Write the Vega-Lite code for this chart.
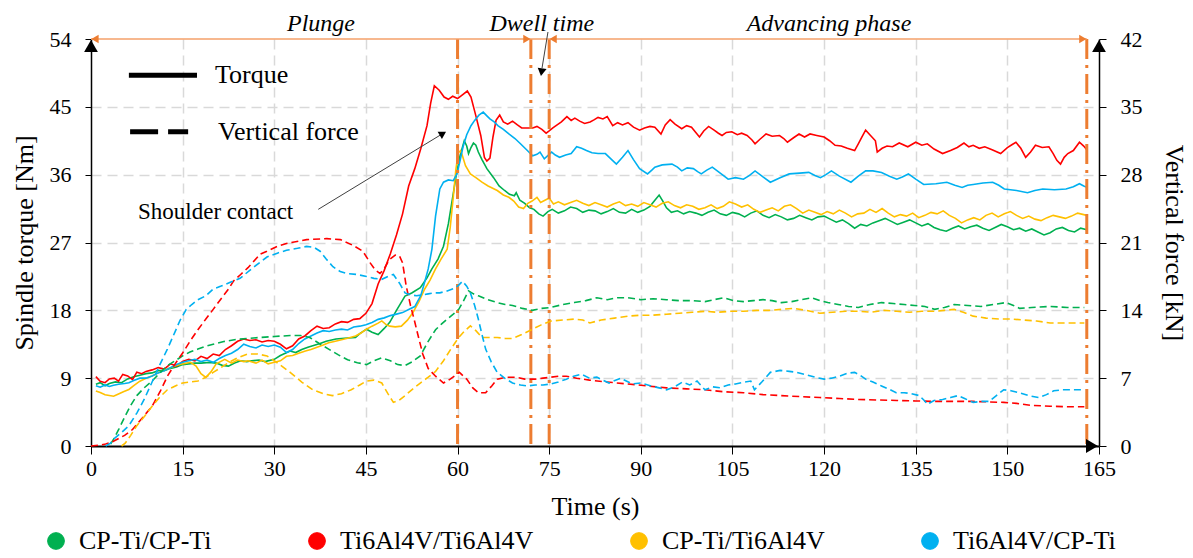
{
"$schema":"https://vega.github.io/schema/vega-lite/v6.json",
"width":1008,"height":407,
"autosize":{"type":"none"},
"padding":{"left":91,"top":39,"right":94,"bottom":112},
"background":"white",
"config":{
 "font":"Liberation Serif, Times New Roman, serif",
 "view":{"stroke":null},
 "text":{"font":"Liberation Serif, Times New Roman, serif"},
 "axis":{"labelFont":"Liberation Serif, Times New Roman, serif","titleFont":"Liberation Serif, Times New Roman, serif","labelFontSize":22,"titleFontSize":26,"titleFontWeight":"normal","labelColor":"#000000","titleColor":"#000000","domainColor":"#000000","tickColor":"#000000","gridColor":"#D9D9D9","gridDash":[10,6],"gridWidth":1.5},
 "legend":{"labelFont":"Liberation Serif, Times New Roman, serif","labelFontSize":26,"labelColor":"#000000","labelLimit":400}
},
"datasets":{
"torque":[
{"s":"CP-Ti/CP-Ti","t":0.8,"v":8.2},{"s":"CP-Ti/CP-Ti","t":1.5,"v":8.4},{"s":"CP-Ti/CP-Ti","t":2.3,"v":8.0},{"s":"CP-Ti/CP-Ti","t":3,"v":8.3},{"s":"CP-Ti/CP-Ti","t":4,"v":8.5},{"s":"CP-Ti/CP-Ti","t":5,"v":8.4},{"s":"CP-Ti/CP-Ti","t":6,"v":8.9},{"s":"CP-Ti/CP-Ti","t":7,"v":9.2},{"s":"CP-Ti/CP-Ti","t":8,"v":9.4},{"s":"CP-Ti/CP-Ti","t":9,"v":9.6},{"s":"CP-Ti/CP-Ti","t":10,"v":9.7},{"s":"CP-Ti/CP-Ti","t":11,"v":10.0},{"s":"CP-Ti/CP-Ti","t":12,"v":10.0},{"s":"CP-Ti/CP-Ti","t":13,"v":10.3},{"s":"CP-Ti/CP-Ti","t":14,"v":10.5},{"s":"CP-Ti/CP-Ti","t":15,"v":10.8},{"s":"CP-Ti/CP-Ti","t":16,"v":10.9},{"s":"CP-Ti/CP-Ti","t":17,"v":11.0},{"s":"CP-Ti/CP-Ti","t":18,"v":11.0},{"s":"CP-Ti/CP-Ti","t":19.4,"v":11.1},{"s":"CP-Ti/CP-Ti","t":20.5,"v":11.0},{"s":"CP-Ti/CP-Ti","t":21.5,"v":10.7},{"s":"CP-Ti/CP-Ti","t":22.5,"v":10.6},{"s":"CP-Ti/CP-Ti","t":23.5,"v":11.0},{"s":"CP-Ti/CP-Ti","t":24.5,"v":11.3},{"s":"CP-Ti/CP-Ti","t":25.5,"v":11.2},{"s":"CP-Ti/CP-Ti","t":26.3,"v":11.3},{"s":"CP-Ti/CP-Ti","t":27.5,"v":11.4},{"s":"CP-Ti/CP-Ti","t":28.5,"v":11.2},{"s":"CP-Ti/CP-Ti","t":30,"v":11.5},{"s":"CP-Ti/CP-Ti","t":31,"v":12.0},{"s":"CP-Ti/CP-Ti","t":32.6,"v":12.6},{"s":"CP-Ti/CP-Ti","t":33.5,"v":12.4},{"s":"CP-Ti/CP-Ti","t":34.5,"v":12.8},{"s":"CP-Ti/CP-Ti","t":35.5,"v":13.1},{"s":"CP-Ti/CP-Ti","t":36.3,"v":13.3},{"s":"CP-Ti/CP-Ti","t":37.5,"v":13.6},{"s":"CP-Ti/CP-Ti","t":38.5,"v":13.9},{"s":"CP-Ti/CP-Ti","t":40.1,"v":14.2},{"s":"CP-Ti/CP-Ti","t":41.5,"v":14.3},{"s":"CP-Ti/CP-Ti","t":43.3,"v":14.4},{"s":"CP-Ti/CP-Ti","t":44,"v":14.9},{"s":"CP-Ti/CP-Ti","t":45.1,"v":15.5},{"s":"CP-Ti/CP-Ti","t":46,"v":15.1},{"s":"CP-Ti/CP-Ti","t":47,"v":14.8},{"s":"CP-Ti/CP-Ti","t":48,"v":15.6},{"s":"CP-Ti/CP-Ti","t":48.9,"v":16.4},{"s":"CP-Ti/CP-Ti","t":50,"v":18.0},{"s":"CP-Ti/CP-Ti","t":51.4,"v":19.9},{"s":"CP-Ti/CP-Ti","t":52.5,"v":20.3},{"s":"CP-Ti/CP-Ti","t":53.9,"v":21.0},{"s":"CP-Ti/CP-Ti","t":55,"v":22.3},{"s":"CP-Ti/CP-Ti","t":55.8,"v":23.5},{"s":"CP-Ti/CP-Ti","t":56.8,"v":24.8},{"s":"CP-Ti/CP-Ti","t":57.7,"v":26.5},{"s":"CP-Ti/CP-Ti","t":58.5,"v":29.5},{"s":"CP-Ti/CP-Ti","t":59.2,"v":33.0},{"s":"CP-Ti/CP-Ti","t":59.8,"v":36.0},{"s":"CP-Ti/CP-Ti","t":60.4,"v":38.5},{"s":"CP-Ti/CP-Ti","t":61.1,"v":40.5},{"s":"CP-Ti/CP-Ti","t":61.5,"v":39.8},{"s":"CP-Ti/CP-Ti","t":61.8,"v":38.8},{"s":"CP-Ti/CP-Ti","t":62.2,"v":39.6},{"s":"CP-Ti/CP-Ti","t":62.6,"v":40.2},{"s":"CP-Ti/CP-Ti","t":63,"v":39.9},{"s":"CP-Ti/CP-Ti","t":63.4,"v":39.0},{"s":"CP-Ti/CP-Ti","t":64,"v":38.0},{"s":"CP-Ti/CP-Ti","t":64.8,"v":36.8},{"s":"CP-Ti/CP-Ti","t":65.9,"v":35.6},{"s":"CP-Ti/CP-Ti","t":66.8,"v":34.5},{"s":"CP-Ti/CP-Ti","t":67.7,"v":33.9},{"s":"CP-Ti/CP-Ti","t":68.5,"v":33.4},{"s":"CP-Ti/CP-Ti","t":69.3,"v":33.2},{"s":"CP-Ti/CP-Ti","t":69.6,"v":33.6},{"s":"CP-Ti/CP-Ti","t":70.2,"v":32.6},{"s":"CP-Ti/CP-Ti","t":71,"v":32.2},{"s":"CP-Ti/CP-Ti","t":71.8,"v":31.6},{"s":"CP-Ti/CP-Ti","t":72.5,"v":31.4},{"s":"CP-Ti/CP-Ti","t":73.3,"v":30.8},{"s":"CP-Ti/CP-Ti","t":74,"v":30.5},{"s":"CP-Ti/CP-Ti","t":74.8,"v":31.1},{"s":"CP-Ti/CP-Ti","t":75.5,"v":31.4},{"s":"CP-Ti/CP-Ti","t":76.5,"v":30.9},{"s":"CP-Ti/CP-Ti","t":77.5,"v":31.2},{"s":"CP-Ti/CP-Ti","t":78.5,"v":31.7},{"s":"CP-Ti/CP-Ti","t":79.5,"v":31.5},{"s":"CP-Ti/CP-Ti","t":80.5,"v":31.0},{"s":"CP-Ti/CP-Ti","t":81.5,"v":31.3},{"s":"CP-Ti/CP-Ti","t":82.5,"v":31.2},{"s":"CP-Ti/CP-Ti","t":83.5,"v":30.8},{"s":"CP-Ti/CP-Ti","t":84.5,"v":31.1},{"s":"CP-Ti/CP-Ti","t":85.5,"v":31.5},{"s":"CP-Ti/CP-Ti","t":86.5,"v":31.0},{"s":"CP-Ti/CP-Ti","t":87.5,"v":30.9},{"s":"CP-Ti/CP-Ti","t":88.5,"v":31.4},{"s":"CP-Ti/CP-Ti","t":89.5,"v":31.0},{"s":"CP-Ti/CP-Ti","t":90.5,"v":31.3},{"s":"CP-Ti/CP-Ti","t":91.5,"v":31.8},{"s":"CP-Ti/CP-Ti","t":92.3,"v":32.6},{"s":"CP-Ti/CP-Ti","t":93,"v":33.3},{"s":"CP-Ti/CP-Ti","t":93.6,"v":32.5},{"s":"CP-Ti/CP-Ti","t":94.2,"v":31.6},{"s":"CP-Ti/CP-Ti","t":95,"v":31.0},{"s":"CP-Ti/CP-Ti","t":96,"v":31.2},{"s":"CP-Ti/CP-Ti","t":97,"v":30.8},{"s":"CP-Ti/CP-Ti","t":98,"v":31.1},{"s":"CP-Ti/CP-Ti","t":99,"v":30.9},{"s":"CP-Ti/CP-Ti","t":100,"v":30.6},{"s":"CP-Ti/CP-Ti","t":101,"v":31.0},{"s":"CP-Ti/CP-Ti","t":102,"v":31.3},{"s":"CP-Ti/CP-Ti","t":103,"v":30.8},{"s":"CP-Ti/CP-Ti","t":104,"v":30.6},{"s":"CP-Ti/CP-Ti","t":105,"v":31.0},{"s":"CP-Ti/CP-Ti","t":106,"v":30.8},{"s":"CP-Ti/CP-Ti","t":107,"v":30.4},{"s":"CP-Ti/CP-Ti","t":108,"v":30.9},{"s":"CP-Ti/CP-Ti","t":109,"v":31.2},{"s":"CP-Ti/CP-Ti","t":110,"v":30.6},{"s":"CP-Ti/CP-Ti","t":111,"v":30.3},{"s":"CP-Ti/CP-Ti","t":112,"v":30.7},{"s":"CP-Ti/CP-Ti","t":113,"v":30.4},{"s":"CP-Ti/CP-Ti","t":114,"v":30.0},{"s":"CP-Ti/CP-Ti","t":115,"v":30.2},{"s":"CP-Ti/CP-Ti","t":116,"v":30.6},{"s":"CP-Ti/CP-Ti","t":117,"v":30.3},{"s":"CP-Ti/CP-Ti","t":118,"v":30.0},{"s":"CP-Ti/CP-Ti","t":119,"v":30.4},{"s":"CP-Ti/CP-Ti","t":120,"v":30.5},{"s":"CP-Ti/CP-Ti","t":121,"v":30.1},{"s":"CP-Ti/CP-Ti","t":122,"v":29.7},{"s":"CP-Ti/CP-Ti","t":123,"v":30.0},{"s":"CP-Ti/CP-Ti","t":124,"v":29.5},{"s":"CP-Ti/CP-Ti","t":125,"v":28.9},{"s":"CP-Ti/CP-Ti","t":126,"v":29.4},{"s":"CP-Ti/CP-Ti","t":127,"v":29.2},{"s":"CP-Ti/CP-Ti","t":128,"v":29.6},{"s":"CP-Ti/CP-Ti","t":129,"v":29.9},{"s":"CP-Ti/CP-Ti","t":130,"v":30.2},{"s":"CP-Ti/CP-Ti","t":131,"v":29.8},{"s":"CP-Ti/CP-Ti","t":132,"v":29.4},{"s":"CP-Ti/CP-Ti","t":133,"v":29.7},{"s":"CP-Ti/CP-Ti","t":134,"v":30.0},{"s":"CP-Ti/CP-Ti","t":135,"v":29.6},{"s":"CP-Ti/CP-Ti","t":136,"v":29.2},{"s":"CP-Ti/CP-Ti","t":137,"v":29.5},{"s":"CP-Ti/CP-Ti","t":138,"v":29.0},{"s":"CP-Ti/CP-Ti","t":139,"v":28.7},{"s":"CP-Ti/CP-Ti","t":140,"v":28.5},{"s":"CP-Ti/CP-Ti","t":141,"v":28.9},{"s":"CP-Ti/CP-Ti","t":142,"v":29.2},{"s":"CP-Ti/CP-Ti","t":143,"v":28.8},{"s":"CP-Ti/CP-Ti","t":144,"v":29.1},{"s":"CP-Ti/CP-Ti","t":145,"v":29.3},{"s":"CP-Ti/CP-Ti","t":146,"v":28.9},{"s":"CP-Ti/CP-Ti","t":147,"v":28.6},{"s":"CP-Ti/CP-Ti","t":148,"v":29.0},{"s":"CP-Ti/CP-Ti","t":149,"v":29.4},{"s":"CP-Ti/CP-Ti","t":150,"v":29.1},{"s":"CP-Ti/CP-Ti","t":151,"v":28.7},{"s":"CP-Ti/CP-Ti","t":152,"v":28.9},{"s":"CP-Ti/CP-Ti","t":153,"v":28.5},{"s":"CP-Ti/CP-Ti","t":154,"v":28.8},{"s":"CP-Ti/CP-Ti","t":155,"v":28.4},{"s":"CP-Ti/CP-Ti","t":156,"v":28.0},{"s":"CP-Ti/CP-Ti","t":157,"v":28.3},{"s":"CP-Ti/CP-Ti","t":158,"v":28.8},{"s":"CP-Ti/CP-Ti","t":159,"v":29.0},{"s":"CP-Ti/CP-Ti","t":160,"v":28.6},{"s":"CP-Ti/CP-Ti","t":161,"v":28.4},{"s":"CP-Ti/CP-Ti","t":162,"v":28.9},{"s":"CP-Ti/CP-Ti","t":163,"v":28.7},
{"s":"Ti6Al4V/Ti6Al4V","t":0.8,"v":9.2},{"s":"Ti6Al4V/Ti6Al4V","t":1.5,"v":8.6},{"s":"Ti6Al4V/Ti6Al4V","t":2.3,"v":8.4},{"s":"Ti6Al4V/Ti6Al4V","t":3,"v":8.9},{"s":"Ti6Al4V/Ti6Al4V","t":3.8,"v":9.0},{"s":"Ti6Al4V/Ti6Al4V","t":4.5,"v":8.6},{"s":"Ti6Al4V/Ti6Al4V","t":5.2,"v":9.5},{"s":"Ti6Al4V/Ti6Al4V","t":6,"v":9.3},{"s":"Ti6Al4V/Ti6Al4V","t":6.8,"v":8.8},{"s":"Ti6Al4V/Ti6Al4V","t":7.5,"v":9.8},{"s":"Ti6Al4V/Ti6Al4V","t":8.3,"v":9.6},{"s":"Ti6Al4V/Ti6Al4V","t":9,"v":9.9},{"s":"Ti6Al4V/Ti6Al4V","t":10,"v":10.1},{"s":"Ti6Al4V/Ti6Al4V","t":11,"v":10.4},{"s":"Ti6Al4V/Ti6Al4V","t":12,"v":10.2},{"s":"Ti6Al4V/Ti6Al4V","t":13,"v":10.9},{"s":"Ti6Al4V/Ti6Al4V","t":14,"v":10.6},{"s":"Ti6Al4V/Ti6Al4V","t":15,"v":11.2},{"s":"Ti6Al4V/Ti6Al4V","t":16,"v":11.5},{"s":"Ti6Al4V/Ti6Al4V","t":17,"v":11.3},{"s":"Ti6Al4V/Ti6Al4V","t":18,"v":11.9},{"s":"Ti6Al4V/Ti6Al4V","t":19,"v":11.6},{"s":"Ti6Al4V/Ti6Al4V","t":20,"v":12.2},{"s":"Ti6Al4V/Ti6Al4V","t":21,"v":12.0},{"s":"Ti6Al4V/Ti6Al4V","t":22,"v":12.8},{"s":"Ti6Al4V/Ti6Al4V","t":23,"v":13.3},{"s":"Ti6Al4V/Ti6Al4V","t":24,"v":13.9},{"s":"Ti6Al4V/Ti6Al4V","t":25,"v":14.2},{"s":"Ti6Al4V/Ti6Al4V","t":26,"v":14.0},{"s":"Ti6Al4V/Ti6Al4V","t":27,"v":14.1},{"s":"Ti6Al4V/Ti6Al4V","t":28,"v":13.8},{"s":"Ti6Al4V/Ti6Al4V","t":29,"v":14.0},{"s":"Ti6Al4V/Ti6Al4V","t":30,"v":13.9},{"s":"Ti6Al4V/Ti6Al4V","t":31,"v":13.5},{"s":"Ti6Al4V/Ti6Al4V","t":32,"v":12.9},{"s":"Ti6Al4V/Ti6Al4V","t":33,"v":13.3},{"s":"Ti6Al4V/Ti6Al4V","t":34,"v":14.2},{"s":"Ti6Al4V/Ti6Al4V","t":35,"v":14.6},{"s":"Ti6Al4V/Ti6Al4V","t":36,"v":15.3},{"s":"Ti6Al4V/Ti6Al4V","t":37,"v":15.9},{"s":"Ti6Al4V/Ti6Al4V","t":38,"v":15.6},{"s":"Ti6Al4V/Ti6Al4V","t":39,"v":15.7},{"s":"Ti6Al4V/Ti6Al4V","t":40,"v":16.2},{"s":"Ti6Al4V/Ti6Al4V","t":41,"v":16.5},{"s":"Ti6Al4V/Ti6Al4V","t":42,"v":16.4},{"s":"Ti6Al4V/Ti6Al4V","t":43,"v":16.8},{"s":"Ti6Al4V/Ti6Al4V","t":44,"v":16.9},{"s":"Ti6Al4V/Ti6Al4V","t":45,"v":17.6},{"s":"Ti6Al4V/Ti6Al4V","t":46,"v":18.9},{"s":"Ti6Al4V/Ti6Al4V","t":47,"v":21.5},{"s":"Ti6Al4V/Ti6Al4V","t":48,"v":23.3},{"s":"Ti6Al4V/Ti6Al4V","t":49,"v":25.5},{"s":"Ti6Al4V/Ti6Al4V","t":50,"v":28.0},{"s":"Ti6Al4V/Ti6Al4V","t":51,"v":30.8},{"s":"Ti6Al4V/Ti6Al4V","t":52,"v":34.5},{"s":"Ti6Al4V/Ti6Al4V","t":53,"v":36.8},{"s":"Ti6Al4V/Ti6Al4V","t":54,"v":39.5},{"s":"Ti6Al4V/Ti6Al4V","t":55,"v":42.5},{"s":"Ti6Al4V/Ti6Al4V","t":55.6,"v":45.5},{"s":"Ti6Al4V/Ti6Al4V","t":56.2,"v":47.8},{"s":"Ti6Al4V/Ti6Al4V","t":57,"v":47.2},{"s":"Ti6Al4V/Ti6Al4V","t":57.8,"v":46.3},{"s":"Ti6Al4V/Ti6Al4V","t":58.5,"v":46.0},{"s":"Ti6Al4V/Ti6Al4V","t":59.2,"v":46.4},{"s":"Ti6Al4V/Ti6Al4V","t":60,"v":46.1},{"s":"Ti6Al4V/Ti6Al4V","t":60.8,"v":46.6},{"s":"Ti6Al4V/Ti6Al4V","t":61.6,"v":47.1},{"s":"Ti6Al4V/Ti6Al4V","t":62.2,"v":46.3},{"s":"Ti6Al4V/Ti6Al4V","t":63,"v":43.8},{"s":"Ti6Al4V/Ti6Al4V","t":63.8,"v":41.2},{"s":"Ti6Al4V/Ti6Al4V","t":64.4,"v":38.3},{"s":"Ti6Al4V/Ti6Al4V","t":64.8,"v":37.8},{"s":"Ti6Al4V/Ti6Al4V","t":65.3,"v":38.2},{"s":"Ti6Al4V/Ti6Al4V","t":65.8,"v":41.0},{"s":"Ti6Al4V/Ti6Al4V","t":66.3,"v":43.2},{"s":"Ti6Al4V/Ti6Al4V","t":66.9,"v":43.9},{"s":"Ti6Al4V/Ti6Al4V","t":67.5,"v":43.0},{"s":"Ti6Al4V/Ti6Al4V","t":68.2,"v":42.7},{"s":"Ti6Al4V/Ti6Al4V","t":69,"v":43.1},{"s":"Ti6Al4V/Ti6Al4V","t":69.8,"v":42.6},{"s":"Ti6Al4V/Ti6Al4V","t":70.5,"v":42.2},{"s":"Ti6Al4V/Ti6Al4V","t":71.3,"v":42.2},{"s":"Ti6Al4V/Ti6Al4V","t":72.3,"v":42.2},{"s":"Ti6Al4V/Ti6Al4V","t":73,"v":42.4},{"s":"Ti6Al4V/Ti6Al4V","t":73.8,"v":42.0},{"s":"Ti6Al4V/Ti6Al4V","t":74.5,"v":41.5},{"s":"Ti6Al4V/Ti6Al4V","t":75,"v":41.8},{"s":"Ti6Al4V/Ti6Al4V","t":75.6,"v":42.2},{"s":"Ti6Al4V/Ti6Al4V","t":76.3,"v":42.6},{"s":"Ti6Al4V/Ti6Al4V","t":77,"v":43.0},{"s":"Ti6Al4V/Ti6Al4V","t":77.9,"v":43.7},{"s":"Ti6Al4V/Ti6Al4V","t":78.6,"v":43.2},{"s":"Ti6Al4V/Ti6Al4V","t":79.2,"v":43.5},{"s":"Ti6Al4V/Ti6Al4V","t":80,"v":43.1},{"s":"Ti6Al4V/Ti6Al4V","t":80.8,"v":42.8},{"s":"Ti6Al4V/Ti6Al4V","t":81.7,"v":43.0},{"s":"Ti6Al4V/Ti6Al4V","t":82.4,"v":43.3},{"s":"Ti6Al4V/Ti6Al4V","t":83,"v":43.6},{"s":"Ti6Al4V/Ti6Al4V","t":83.8,"v":43.4},{"s":"Ti6Al4V/Ti6Al4V","t":84.5,"v":43.7},{"s":"Ti6Al4V/Ti6Al4V","t":85.4,"v":42.5},{"s":"Ti6Al4V/Ti6Al4V","t":86.2,"v":42.9},{"s":"Ti6Al4V/Ti6Al4V","t":87,"v":42.6},{"s":"Ti6Al4V/Ti6Al4V","t":87.9,"v":42.9},{"s":"Ti6Al4V/Ti6Al4V","t":88.8,"v":42.3},{"s":"Ti6Al4V/Ti6Al4V","t":89.8,"v":41.9},{"s":"Ti6Al4V/Ti6Al4V","t":90.6,"v":42.2},{"s":"Ti6Al4V/Ti6Al4V","t":91.5,"v":42.4},{"s":"Ti6Al4V/Ti6Al4V","t":92.3,"v":42.3},{"s":"Ti6Al4V/Ti6Al4V","t":93.3,"v":41.4},{"s":"Ti6Al4V/Ti6Al4V","t":94,"v":42.6},{"s":"Ti6Al4V/Ti6Al4V","t":94.8,"v":43.3},{"s":"Ti6Al4V/Ti6Al4V","t":95.6,"v":42.7},{"s":"Ti6Al4V/Ti6Al4V","t":96.7,"v":42.1},{"s":"Ti6Al4V/Ti6Al4V","t":97.5,"v":42.5},{"s":"Ti6Al4V/Ti6Al4V","t":98.3,"v":42.3},{"s":"Ti6Al4V/Ti6Al4V","t":99,"v":41.6},{"s":"Ti6Al4V/Ti6Al4V","t":99.6,"v":41.0},{"s":"Ti6Al4V/Ti6Al4V","t":100.3,"v":41.8},{"s":"Ti6Al4V/Ti6Al4V","t":101.1,"v":42.4},{"s":"Ti6Al4V/Ti6Al4V","t":102,"v":41.9},{"s":"Ti6Al4V/Ti6Al4V","t":102.7,"v":41.5},{"s":"Ti6Al4V/Ti6Al4V","t":103.3,"v":41.2},{"s":"Ti6Al4V/Ti6Al4V","t":104,"v":41.6},{"s":"Ti6Al4V/Ti6Al4V","t":104.9,"v":41.7},{"s":"Ti6Al4V/Ti6Al4V","t":105.8,"v":41.3},{"s":"Ti6Al4V/Ti6Al4V","t":106.5,"v":41.5},{"s":"Ti6Al4V/Ti6Al4V","t":107.4,"v":41.2},{"s":"Ti6Al4V/Ti6Al4V","t":108.2,"v":40.6},{"s":"Ti6Al4V/Ti6Al4V","t":108.7,"v":40.1},{"s":"Ti6Al4V/Ti6Al4V","t":109.5,"v":40.7},{"s":"Ti6Al4V/Ti6Al4V","t":110.5,"v":41.4},{"s":"Ti6Al4V/Ti6Al4V","t":111.5,"v":41.1},{"s":"Ti6Al4V/Ti6Al4V","t":112.7,"v":41.2},{"s":"Ti6Al4V/Ti6Al4V","t":113.4,"v":40.8},{"s":"Ti6Al4V/Ti6Al4V","t":114,"v":40.3},{"s":"Ti6Al4V/Ti6Al4V","t":115,"v":40.9},{"s":"Ti6Al4V/Ti6Al4V","t":115.9,"v":41.4},{"s":"Ti6Al4V/Ti6Al4V","t":116.8,"v":41.0},{"s":"Ti6Al4V/Ti6Al4V","t":117.7,"v":41.4},{"s":"Ti6Al4V/Ti6Al4V","t":118.8,"v":41.2},{"s":"Ti6Al4V/Ti6Al4V","t":120,"v":41.0},{"s":"Ti6Al4V/Ti6Al4V","t":120.9,"v":40.5},{"s":"Ti6Al4V/Ti6Al4V","t":121.8,"v":39.9},{"s":"Ti6Al4V/Ti6Al4V","t":122.8,"v":39.8},{"s":"Ti6Al4V/Ti6Al4V","t":123.8,"v":39.5},{"s":"Ti6Al4V/Ti6Al4V","t":125,"v":39.2},{"s":"Ti6Al4V/Ti6Al4V","t":125.6,"v":40.1},{"s":"Ti6Al4V/Ti6Al4V","t":126.2,"v":41.0},{"s":"Ti6Al4V/Ti6Al4V","t":126.8,"v":41.9},{"s":"Ti6Al4V/Ti6Al4V","t":127.6,"v":41.2},{"s":"Ti6Al4V/Ti6Al4V","t":128.4,"v":40.5},{"s":"Ti6Al4V/Ti6Al4V","t":128.7,"v":39.0},{"s":"Ti6Al4V/Ti6Al4V","t":129.5,"v":39.5},{"s":"Ti6Al4V/Ti6Al4V","t":130.3,"v":39.8},{"s":"Ti6Al4V/Ti6Al4V","t":131.2,"v":39.7},{"s":"Ti6Al4V/Ti6Al4V","t":132.3,"v":40.2},{"s":"Ti6Al4V/Ti6Al4V","t":133.7,"v":39.7},{"s":"Ti6Al4V/Ti6Al4V","t":135,"v":40.3},{"s":"Ti6Al4V/Ti6Al4V","t":136,"v":39.9},{"s":"Ti6Al4V/Ti6Al4V","t":136.9,"v":40.1},{"s":"Ti6Al4V/Ti6Al4V","t":138,"v":39.4},{"s":"Ti6Al4V/Ti6Al4V","t":139.4,"v":38.8},{"s":"Ti6Al4V/Ti6Al4V","t":140.7,"v":39.2},{"s":"Ti6Al4V/Ti6Al4V","t":141.8,"v":39.6},{"s":"Ti6Al4V/Ti6Al4V","t":142.9,"v":40.2},{"s":"Ti6Al4V/Ti6Al4V","t":143.7,"v":39.7},{"s":"Ti6Al4V/Ti6Al4V","t":144.4,"v":39.9},{"s":"Ti6Al4V/Ti6Al4V","t":145.4,"v":39.5},{"s":"Ti6Al4V/Ti6Al4V","t":146.3,"v":39.7},{"s":"Ti6Al4V/Ti6Al4V","t":147.5,"v":39.3},{"s":"Ti6Al4V/Ti6Al4V","t":148.9,"v":38.8},{"s":"Ti6Al4V/Ti6Al4V","t":150,"v":39.6},{"s":"Ti6Al4V/Ti6Al4V","t":150.8,"v":40.0},{"s":"Ti6Al4V/Ti6Al4V","t":151.4,"v":40.3},{"s":"Ti6Al4V/Ti6Al4V","t":152.2,"v":39.5},{"s":"Ti6Al4V/Ti6Al4V","t":153,"v":38.3},{"s":"Ti6Al4V/Ti6Al4V","t":153.8,"v":39.0},{"s":"Ti6Al4V/Ti6Al4V","t":154.6,"v":39.9},{"s":"Ti6Al4V/Ti6Al4V","t":155.7,"v":39.6},{"s":"Ti6Al4V/Ti6Al4V","t":156.8,"v":39.7},{"s":"Ti6Al4V/Ti6Al4V","t":157.5,"v":38.8},{"s":"Ti6Al4V/Ti6Al4V","t":158.1,"v":37.9},{"s":"Ti6Al4V/Ti6Al4V","t":158.7,"v":37.4},{"s":"Ti6Al4V/Ti6Al4V","t":159.3,"v":38.3},{"s":"Ti6Al4V/Ti6Al4V","t":159.9,"v":38.8},{"s":"Ti6Al4V/Ti6Al4V","t":160.8,"v":39.2},{"s":"Ti6Al4V/Ti6Al4V","t":161.8,"v":40.3},{"s":"Ti6Al4V/Ti6Al4V","t":162.5,"v":39.8},{"s":"Ti6Al4V/Ti6Al4V","t":163.1,"v":39.2},
{"s":"CP-Ti/Ti6Al4V","t":0.8,"v":7.3},{"s":"CP-Ti/Ti6Al4V","t":1.5,"v":7.1},{"s":"CP-Ti/Ti6Al4V","t":2.3,"v":6.8},{"s":"CP-Ti/Ti6Al4V","t":3,"v":6.7},{"s":"CP-Ti/Ti6Al4V","t":3.7,"v":6.6},{"s":"CP-Ti/Ti6Al4V","t":4.5,"v":6.9},{"s":"CP-Ti/Ti6Al4V","t":5.3,"v":7.2},{"s":"CP-Ti/Ti6Al4V","t":6.2,"v":7.5},{"s":"CP-Ti/Ti6Al4V","t":7,"v":8.0},{"s":"CP-Ti/Ti6Al4V","t":8,"v":8.6},{"s":"CP-Ti/Ti6Al4V","t":9,"v":9.0},{"s":"CP-Ti/Ti6Al4V","t":10,"v":9.3},{"s":"CP-Ti/Ti6Al4V","t":11,"v":9.7},{"s":"CP-Ti/Ti6Al4V","t":12,"v":10.1},{"s":"CP-Ti/Ti6Al4V","t":13.1,"v":10.4},{"s":"CP-Ti/Ti6Al4V","t":14,"v":10.7},{"s":"CP-Ti/Ti6Al4V","t":15,"v":10.9},{"s":"CP-Ti/Ti6Al4V","t":16.3,"v":11.1},{"s":"CP-Ti/Ti6Al4V","t":17.2,"v":10.6},{"s":"CP-Ti/Ti6Al4V","t":18,"v":9.6},{"s":"CP-Ti/Ti6Al4V","t":18.8,"v":9.1},{"s":"CP-Ti/Ti6Al4V","t":19.6,"v":9.8},{"s":"CP-Ti/Ti6Al4V","t":20.5,"v":10.9},{"s":"CP-Ti/Ti6Al4V","t":21.9,"v":11.5},{"s":"CP-Ti/Ti6Al4V","t":23,"v":11.0},{"s":"CP-Ti/Ti6Al4V","t":24,"v":11.4},{"s":"CP-Ti/Ti6Al4V","t":25,"v":11.2},{"s":"CP-Ti/Ti6Al4V","t":25.7,"v":11.3},{"s":"CP-Ti/Ti6Al4V","t":27,"v":11.0},{"s":"CP-Ti/Ti6Al4V","t":28,"v":11.4},{"s":"CP-Ti/Ti6Al4V","t":29,"v":10.9},{"s":"CP-Ti/Ti6Al4V","t":30,"v":11.1},{"s":"CP-Ti/Ti6Al4V","t":31,"v":11.3},{"s":"CP-Ti/Ti6Al4V","t":32,"v":11.9},{"s":"CP-Ti/Ti6Al4V","t":33,"v":12.0},{"s":"CP-Ti/Ti6Al4V","t":34,"v":12.3},{"s":"CP-Ti/Ti6Al4V","t":35.1,"v":12.6},{"s":"CP-Ti/Ti6Al4V","t":36,"v":12.8},{"s":"CP-Ti/Ti6Al4V","t":37,"v":13.1},{"s":"CP-Ti/Ti6Al4V","t":38,"v":13.4},{"s":"CP-Ti/Ti6Al4V","t":38.9,"v":13.7},{"s":"CP-Ti/Ti6Al4V","t":40,"v":13.9},{"s":"CP-Ti/Ti6Al4V","t":41,"v":14.1},{"s":"CP-Ti/Ti6Al4V","t":42,"v":14.3},{"s":"CP-Ti/Ti6Al4V","t":43.3,"v":14.6},{"s":"CP-Ti/Ti6Al4V","t":44.2,"v":15.0},{"s":"CP-Ti/Ti6Al4V","t":45.1,"v":15.5},{"s":"CP-Ti/Ti6Al4V","t":46,"v":15.9},{"s":"CP-Ti/Ti6Al4V","t":47,"v":16.3},{"s":"CP-Ti/Ti6Al4V","t":47.6,"v":16.6},{"s":"CP-Ti/Ti6Al4V","t":48.3,"v":16.1},{"s":"CP-Ti/Ti6Al4V","t":48.9,"v":15.9},{"s":"CP-Ti/Ti6Al4V","t":49.8,"v":15.8},{"s":"CP-Ti/Ti6Al4V","t":50.8,"v":15.9},{"s":"CP-Ti/Ti6Al4V","t":51.8,"v":16.7},{"s":"CP-Ti/Ti6Al4V","t":52.7,"v":17.7},{"s":"CP-Ti/Ti6Al4V","t":53.7,"v":19.2},{"s":"CP-Ti/Ti6Al4V","t":54.6,"v":20.8},{"s":"CP-Ti/Ti6Al4V","t":55.5,"v":22.0},{"s":"CP-Ti/Ti6Al4V","t":56.4,"v":23.5},{"s":"CP-Ti/Ti6Al4V","t":57.3,"v":24.8},{"s":"CP-Ti/Ti6Al4V","t":58.3,"v":26.1},{"s":"CP-Ti/Ti6Al4V","t":58.8,"v":29.0},{"s":"CP-Ti/Ti6Al4V","t":59.3,"v":33.0},{"s":"CP-Ti/Ti6Al4V","t":59.7,"v":36.5},{"s":"CP-Ti/Ti6Al4V","t":60.1,"v":38.9},{"s":"CP-Ti/Ti6Al4V","t":60.5,"v":39.2},{"s":"CP-Ti/Ti6Al4V","t":60.8,"v":38.5},{"s":"CP-Ti/Ti6Al4V","t":61.3,"v":37.2},{"s":"CP-Ti/Ti6Al4V","t":62.1,"v":36.1},{"s":"CP-Ti/Ti6Al4V","t":63,"v":35.6},{"s":"CP-Ti/Ti6Al4V","t":64,"v":35.0},{"s":"CP-Ti/Ti6Al4V","t":65,"v":34.5},{"s":"CP-Ti/Ti6Al4V","t":66.5,"v":33.9},{"s":"CP-Ti/Ti6Al4V","t":67.5,"v":33.3},{"s":"CP-Ti/Ti6Al4V","t":68.4,"v":33.0},{"s":"CP-Ti/Ti6Al4V","t":69.2,"v":32.5},{"s":"CP-Ti/Ti6Al4V","t":70,"v":31.7},{"s":"CP-Ti/Ti6Al4V","t":70.8,"v":31.5},{"s":"CP-Ti/Ti6Al4V","t":71.5,"v":32.2},{"s":"CP-Ti/Ti6Al4V","t":72.2,"v":32.5},{"s":"CP-Ti/Ti6Al4V","t":73,"v":33.0},{"s":"CP-Ti/Ti6Al4V","t":73.6,"v":32.3},{"s":"CP-Ti/Ti6Al4V","t":74.3,"v":32.6},{"s":"CP-Ti/Ti6Al4V","t":75,"v":32.9},{"s":"CP-Ti/Ti6Al4V","t":75.7,"v":32.1},{"s":"CP-Ti/Ti6Al4V","t":76.5,"v":32.4},{"s":"CP-Ti/Ti6Al4V","t":77.5,"v":32.0},{"s":"CP-Ti/Ti6Al4V","t":78.5,"v":32.3},{"s":"CP-Ti/Ti6Al4V","t":79.5,"v":32.6},{"s":"CP-Ti/Ti6Al4V","t":80.5,"v":32.2},{"s":"CP-Ti/Ti6Al4V","t":81.5,"v":31.9},{"s":"CP-Ti/Ti6Al4V","t":82.5,"v":32.3},{"s":"CP-Ti/Ti6Al4V","t":83.5,"v":32.0},{"s":"CP-Ti/Ti6Al4V","t":84.5,"v":31.7},{"s":"CP-Ti/Ti6Al4V","t":85.5,"v":32.1},{"s":"CP-Ti/Ti6Al4V","t":86.5,"v":32.4},{"s":"CP-Ti/Ti6Al4V","t":87.5,"v":31.9},{"s":"CP-Ti/Ti6Al4V","t":88.5,"v":32.1},{"s":"CP-Ti/Ti6Al4V","t":89.5,"v":31.8},{"s":"CP-Ti/Ti6Al4V","t":90.5,"v":32.3},{"s":"CP-Ti/Ti6Al4V","t":91.5,"v":32.0},{"s":"CP-Ti/Ti6Al4V","t":92.5,"v":31.7},{"s":"CP-Ti/Ti6Al4V","t":93.5,"v":32.2},{"s":"CP-Ti/Ti6Al4V","t":94.5,"v":32.4},{"s":"CP-Ti/Ti6Al4V","t":95.5,"v":31.9},{"s":"CP-Ti/Ti6Al4V","t":96.5,"v":31.6},{"s":"CP-Ti/Ti6Al4V","t":97.5,"v":32.0},{"s":"CP-Ti/Ti6Al4V","t":98.5,"v":31.8},{"s":"CP-Ti/Ti6Al4V","t":99.5,"v":31.4},{"s":"CP-Ti/Ti6Al4V","t":100.5,"v":31.6},{"s":"CP-Ti/Ti6Al4V","t":101.5,"v":32.0},{"s":"CP-Ti/Ti6Al4V","t":102.5,"v":31.5},{"s":"CP-Ti/Ti6Al4V","t":103.5,"v":31.8},{"s":"CP-Ti/Ti6Al4V","t":104.5,"v":32.4},{"s":"CP-Ti/Ti6Al4V","t":105.5,"v":32.1},{"s":"CP-Ti/Ti6Al4V","t":106.5,"v":31.7},{"s":"CP-Ti/Ti6Al4V","t":107.5,"v":32.0},{"s":"CP-Ti/Ti6Al4V","t":108.5,"v":31.4},{"s":"CP-Ti/Ti6Al4V","t":109.5,"v":31.0},{"s":"CP-Ti/Ti6Al4V","t":110.5,"v":31.3},{"s":"CP-Ti/Ti6Al4V","t":111.5,"v":31.6},{"s":"CP-Ti/Ti6Al4V","t":112.5,"v":31.2},{"s":"CP-Ti/Ti6Al4V","t":113.5,"v":31.8},{"s":"CP-Ti/Ti6Al4V","t":114.5,"v":32.0},{"s":"CP-Ti/Ti6Al4V","t":115.5,"v":31.5},{"s":"CP-Ti/Ti6Al4V","t":116.5,"v":30.9},{"s":"CP-Ti/Ti6Al4V","t":117.5,"v":31.3},{"s":"CP-Ti/Ti6Al4V","t":118.5,"v":31.0},{"s":"CP-Ti/Ti6Al4V","t":119.5,"v":30.7},{"s":"CP-Ti/Ti6Al4V","t":120.5,"v":31.1},{"s":"CP-Ti/Ti6Al4V","t":121.5,"v":30.8},{"s":"CP-Ti/Ti6Al4V","t":122.5,"v":31.3},{"s":"CP-Ti/Ti6Al4V","t":123.5,"v":30.9},{"s":"CP-Ti/Ti6Al4V","t":124.5,"v":30.4},{"s":"CP-Ti/Ti6Al4V","t":125.5,"v":30.8},{"s":"CP-Ti/Ti6Al4V","t":126.5,"v":30.9},{"s":"CP-Ti/Ti6Al4V","t":127.5,"v":31.4},{"s":"CP-Ti/Ti6Al4V","t":128.5,"v":31.0},{"s":"CP-Ti/Ti6Al4V","t":129.5,"v":31.5},{"s":"CP-Ti/Ti6Al4V","t":130.5,"v":30.9},{"s":"CP-Ti/Ti6Al4V","t":131.5,"v":30.4},{"s":"CP-Ti/Ti6Al4V","t":132.5,"v":30.7},{"s":"CP-Ti/Ti6Al4V","t":133.5,"v":30.5},{"s":"CP-Ti/Ti6Al4V","t":134.5,"v":30.9},{"s":"CP-Ti/Ti6Al4V","t":135.5,"v":30.3},{"s":"CP-Ti/Ti6Al4V","t":136.5,"v":30.6},{"s":"CP-Ti/Ti6Al4V","t":137.5,"v":31.0},{"s":"CP-Ti/Ti6Al4V","t":138.5,"v":30.8},{"s":"CP-Ti/Ti6Al4V","t":139.5,"v":31.2},{"s":"CP-Ti/Ti6Al4V","t":140.5,"v":30.6},{"s":"CP-Ti/Ti6Al4V","t":141.5,"v":30.2},{"s":"CP-Ti/Ti6Al4V","t":142.5,"v":29.6},{"s":"CP-Ti/Ti6Al4V","t":143.5,"v":30.0},{"s":"CP-Ti/Ti6Al4V","t":144.5,"v":30.3},{"s":"CP-Ti/Ti6Al4V","t":145.5,"v":30.0},{"s":"CP-Ti/Ti6Al4V","t":146.5,"v":30.6},{"s":"CP-Ti/Ti6Al4V","t":147.5,"v":30.9},{"s":"CP-Ti/Ti6Al4V","t":148.5,"v":30.4},{"s":"CP-Ti/Ti6Al4V","t":149.5,"v":30.8},{"s":"CP-Ti/Ti6Al4V","t":150.5,"v":31.1},{"s":"CP-Ti/Ti6Al4V","t":151.5,"v":30.6},{"s":"CP-Ti/Ti6Al4V","t":152.5,"v":30.2},{"s":"CP-Ti/Ti6Al4V","t":153.5,"v":30.5},{"s":"CP-Ti/Ti6Al4V","t":154.5,"v":30.1},{"s":"CP-Ti/Ti6Al4V","t":155.5,"v":29.9},{"s":"CP-Ti/Ti6Al4V","t":156.5,"v":30.3},{"s":"CP-Ti/Ti6Al4V","t":157.5,"v":30.6},{"s":"CP-Ti/Ti6Al4V","t":158.5,"v":30.4},{"s":"CP-Ti/Ti6Al4V","t":159.5,"v":30.2},{"s":"CP-Ti/Ti6Al4V","t":160.5,"v":30.5},{"s":"CP-Ti/Ti6Al4V","t":161.5,"v":30.9},{"s":"CP-Ti/Ti6Al4V","t":162.5,"v":30.7},{"s":"CP-Ti/Ti6Al4V","t":163,"v":30.6},
{"s":"Ti6Al4V/CP-Ti","t":0.8,"v":8.0},{"s":"Ti6Al4V/CP-Ti","t":1.5,"v":7.8},{"s":"Ti6Al4V/CP-Ti","t":2.3,"v":8.1},{"s":"Ti6Al4V/CP-Ti","t":3,"v":7.9},{"s":"Ti6Al4V/CP-Ti","t":3.7,"v":8.05},{"s":"Ti6Al4V/CP-Ti","t":4.5,"v":8.2},{"s":"Ti6Al4V/CP-Ti","t":5.5,"v":8.3},{"s":"Ti6Al4V/CP-Ti","t":6.2,"v":8.4},{"s":"Ti6Al4V/CP-Ti","t":7,"v":8.7},{"s":"Ti6Al4V/CP-Ti","t":8,"v":9.0},{"s":"Ti6Al4V/CP-Ti","t":9,"v":9.0},{"s":"Ti6Al4V/CP-Ti","t":10,"v":9.3},{"s":"Ti6Al4V/CP-Ti","t":11,"v":9.7},{"s":"Ti6Al4V/CP-Ti","t":12,"v":10.0},{"s":"Ti6Al4V/CP-Ti","t":13,"v":10.4},{"s":"Ti6Al4V/CP-Ti","t":14,"v":10.8},{"s":"Ti6Al4V/CP-Ti","t":15,"v":11.1},{"s":"Ti6Al4V/CP-Ti","t":16,"v":11.3},{"s":"Ti6Al4V/CP-Ti","t":17,"v":11.5},{"s":"Ti6Al4V/CP-Ti","t":18,"v":11.2},{"s":"Ti6Al4V/CP-Ti","t":19,"v":11.4},{"s":"Ti6Al4V/CP-Ti","t":20,"v":11.1},{"s":"Ti6Al4V/CP-Ti","t":21,"v":11.6},{"s":"Ti6Al4V/CP-Ti","t":22,"v":12.0},{"s":"Ti6Al4V/CP-Ti","t":23,"v":12.3},{"s":"Ti6Al4V/CP-Ti","t":24,"v":12.8},{"s":"Ti6Al4V/CP-Ti","t":25,"v":13.5},{"s":"Ti6Al4V/CP-Ti","t":26,"v":13.2},{"s":"Ti6Al4V/CP-Ti","t":27,"v":13.0},{"s":"Ti6Al4V/CP-Ti","t":28,"v":13.4},{"s":"Ti6Al4V/CP-Ti","t":29,"v":13.2},{"s":"Ti6Al4V/CP-Ti","t":30,"v":13.4},{"s":"Ti6Al4V/CP-Ti","t":31,"v":13.1},{"s":"Ti6Al4V/CP-Ti","t":32,"v":12.4},{"s":"Ti6Al4V/CP-Ti","t":33,"v":12.8},{"s":"Ti6Al4V/CP-Ti","t":34,"v":13.6},{"s":"Ti6Al4V/CP-Ti","t":35,"v":14.2},{"s":"Ti6Al4V/CP-Ti","t":36,"v":14.6},{"s":"Ti6Al4V/CP-Ti","t":37,"v":15.0},{"s":"Ti6Al4V/CP-Ti","t":38,"v":15.3},{"s":"Ti6Al4V/CP-Ti","t":39,"v":15.2},{"s":"Ti6Al4V/CP-Ti","t":40,"v":15.4},{"s":"Ti6Al4V/CP-Ti","t":41,"v":15.5},{"s":"Ti6Al4V/CP-Ti","t":42,"v":15.4},{"s":"Ti6Al4V/CP-Ti","t":43,"v":15.8},{"s":"Ti6Al4V/CP-Ti","t":44,"v":15.9},{"s":"Ti6Al4V/CP-Ti","t":45,"v":16.1},{"s":"Ti6Al4V/CP-Ti","t":46,"v":16.4},{"s":"Ti6Al4V/CP-Ti","t":47,"v":16.8},{"s":"Ti6Al4V/CP-Ti","t":48,"v":17.0},{"s":"Ti6Al4V/CP-Ti","t":49,"v":17.3},{"s":"Ti6Al4V/CP-Ti","t":50,"v":17.5},{"s":"Ti6Al4V/CP-Ti","t":51,"v":17.7},{"s":"Ti6Al4V/CP-Ti","t":52,"v":18.1},{"s":"Ti6Al4V/CP-Ti","t":53,"v":18.5},{"s":"Ti6Al4V/CP-Ti","t":54,"v":20.0},{"s":"Ti6Al4V/CP-Ti","t":54.6,"v":21.7},{"s":"Ti6Al4V/CP-Ti","t":55.2,"v":23.5},{"s":"Ti6Al4V/CP-Ti","t":55.8,"v":26.1},{"s":"Ti6Al4V/CP-Ti","t":56.4,"v":30.5},{"s":"Ti6Al4V/CP-Ti","t":57.1,"v":34.1},{"s":"Ti6Al4V/CP-Ti","t":57.7,"v":35.0},{"s":"Ti6Al4V/CP-Ti","t":58.5,"v":35.3},{"s":"Ti6Al4V/CP-Ti","t":59.3,"v":35.2},{"s":"Ti6Al4V/CP-Ti","t":59.9,"v":36.1},{"s":"Ti6Al4V/CP-Ti","t":60.4,"v":37.8},{"s":"Ti6Al4V/CP-Ti","t":60.9,"v":39.7},{"s":"Ti6Al4V/CP-Ti","t":61.5,"v":41.3},{"s":"Ti6Al4V/CP-Ti","t":62.2,"v":42.5},{"s":"Ti6Al4V/CP-Ti","t":62.8,"v":43.2},{"s":"Ti6Al4V/CP-Ti","t":63.5,"v":43.9},{"s":"Ti6Al4V/CP-Ti","t":64.2,"v":44.3},{"s":"Ti6Al4V/CP-Ti","t":64.8,"v":43.8},{"s":"Ti6Al4V/CP-Ti","t":65.3,"v":43.4},{"s":"Ti6Al4V/CP-Ti","t":66,"v":43.0},{"s":"Ti6Al4V/CP-Ti","t":66.6,"v":42.5},{"s":"Ti6Al4V/CP-Ti","t":67.5,"v":42.0},{"s":"Ti6Al4V/CP-Ti","t":68.4,"v":41.4},{"s":"Ti6Al4V/CP-Ti","t":69.4,"v":40.8},{"s":"Ti6Al4V/CP-Ti","t":70.3,"v":40.1},{"s":"Ti6Al4V/CP-Ti","t":71.3,"v":39.3},{"s":"Ti6Al4V/CP-Ti","t":72.3,"v":38.5},{"s":"Ti6Al4V/CP-Ti","t":73,"v":38.7},{"s":"Ti6Al4V/CP-Ti","t":73.5,"v":39.0},{"s":"Ti6Al4V/CP-Ti","t":74.2,"v":38.1},{"s":"Ti6Al4V/CP-Ti","t":75,"v":38.7},{"s":"Ti6Al4V/CP-Ti","t":75.4,"v":39.0},{"s":"Ti6Al4V/CP-Ti","t":76,"v":38.6},{"s":"Ti6Al4V/CP-Ti","t":76.7,"v":38.3},{"s":"Ti6Al4V/CP-Ti","t":77.7,"v":38.6},{"s":"Ti6Al4V/CP-Ti","t":78.6,"v":38.8},{"s":"Ti6Al4V/CP-Ti","t":79.5,"v":39.7},{"s":"Ti6Al4V/CP-Ti","t":80.3,"v":39.5},{"s":"Ti6Al4V/CP-Ti","t":81.1,"v":39.2},{"s":"Ti6Al4V/CP-Ti","t":82,"v":38.9},{"s":"Ti6Al4V/CP-Ti","t":83,"v":38.8},{"s":"Ti6Al4V/CP-Ti","t":84.2,"v":38.8},{"s":"Ti6Al4V/CP-Ti","t":85.1,"v":38.1},{"s":"Ti6Al4V/CP-Ti","t":86,"v":37.4},{"s":"Ti6Al4V/CP-Ti","t":87,"v":38.3},{"s":"Ti6Al4V/CP-Ti","t":87.9,"v":39.2},{"s":"Ti6Al4V/CP-Ti","t":88.8,"v":38.0},{"s":"Ti6Al4V/CP-Ti","t":89.8,"v":36.8},{"s":"Ti6Al4V/CP-Ti","t":91.1,"v":36.1},{"s":"Ti6Al4V/CP-Ti","t":91.8,"v":36.6},{"s":"Ti6Al4V/CP-Ti","t":92.3,"v":37.0},{"s":"Ti6Al4V/CP-Ti","t":93.5,"v":37.3},{"s":"Ti6Al4V/CP-Ti","t":95.1,"v":37.4},{"s":"Ti6Al4V/CP-Ti","t":96,"v":37.0},{"s":"Ti6Al4V/CP-Ti","t":96.7,"v":36.5},{"s":"Ti6Al4V/CP-Ti","t":97.6,"v":36.9},{"s":"Ti6Al4V/CP-Ti","t":98.6,"v":36.8},{"s":"Ti6Al4V/CP-Ti","t":99.3,"v":36.4},{"s":"Ti6Al4V/CP-Ti","t":99.9,"v":36.1},{"s":"Ti6Al4V/CP-Ti","t":100.8,"v":36.6},{"s":"Ti6Al4V/CP-Ti","t":101.7,"v":37.0},{"s":"Ti6Al4V/CP-Ti","t":103,"v":36.2},{"s":"Ti6Al4V/CP-Ti","t":104.3,"v":35.4},{"s":"Ti6Al4V/CP-Ti","t":105.5,"v":35.6},{"s":"Ti6Al4V/CP-Ti","t":106.8,"v":35.4},{"s":"Ti6Al4V/CP-Ti","t":107.8,"v":35.9},{"s":"Ti6Al4V/CP-Ti","t":108.7,"v":36.5},{"s":"Ti6Al4V/CP-Ti","t":110,"v":35.7},{"s":"Ti6Al4V/CP-Ti","t":111.2,"v":35.0},{"s":"Ti6Al4V/CP-Ti","t":112.8,"v":35.6},{"s":"Ti6Al4V/CP-Ti","t":114.3,"v":36.1},{"s":"Ti6Al4V/CP-Ti","t":116,"v":36.2},{"s":"Ti6Al4V/CP-Ti","t":117.5,"v":36.3},{"s":"Ti6Al4V/CP-Ti","t":118.5,"v":35.9},{"s":"Ti6Al4V/CP-Ti","t":119.4,"v":35.6},{"s":"Ti6Al4V/CP-Ti","t":120.3,"v":36.0},{"s":"Ti6Al4V/CP-Ti","t":121.2,"v":36.5},{"s":"Ti6Al4V/CP-Ti","t":122.5,"v":35.8},{"s":"Ti6Al4V/CP-Ti","t":124.4,"v":35.0},{"s":"Ti6Al4V/CP-Ti","t":125.6,"v":35.8},{"s":"Ti6Al4V/CP-Ti","t":126.8,"v":36.5},{"s":"Ti6Al4V/CP-Ti","t":128,"v":36.5},{"s":"Ti6Al4V/CP-Ti","t":129.4,"v":36.3},{"s":"Ti6Al4V/CP-Ti","t":130.7,"v":35.8},{"s":"Ti6Al4V/CP-Ti","t":131.9,"v":35.4},{"s":"Ti6Al4V/CP-Ti","t":132.8,"v":35.7},{"s":"Ti6Al4V/CP-Ti","t":133.8,"v":36.1},{"s":"Ti6Al4V/CP-Ti","t":135,"v":35.4},{"s":"Ti6Al4V/CP-Ti","t":136.3,"v":34.7},{"s":"Ti6Al4V/CP-Ti","t":138.3,"v":34.8},{"s":"Ti6Al4V/CP-Ti","t":140.1,"v":35.0},{"s":"Ti6Al4V/CP-Ti","t":141.4,"v":34.6},{"s":"Ti6Al4V/CP-Ti","t":142.6,"v":34.3},{"s":"Ti6Al4V/CP-Ti","t":143.5,"v":34.6},{"s":"Ti6Al4V/CP-Ti","t":144.4,"v":34.7},{"s":"Ti6Al4V/CP-Ti","t":146,"v":34.9},{"s":"Ti6Al4V/CP-Ti","t":147.6,"v":35.0},{"s":"Ti6Al4V/CP-Ti","t":148.6,"v":34.6},{"s":"Ti6Al4V/CP-Ti","t":149.5,"v":34.1},{"s":"Ti6Al4V/CP-Ti","t":151.5,"v":33.9},{"s":"Ti6Al4V/CP-Ti","t":153.3,"v":33.6},{"s":"Ti6Al4V/CP-Ti","t":154.5,"v":33.9},{"s":"Ti6Al4V/CP-Ti","t":155.8,"v":34.1},{"s":"Ti6Al4V/CP-Ti","t":157.7,"v":34.0},{"s":"Ti6Al4V/CP-Ti","t":159.6,"v":34.1},{"s":"Ti6Al4V/CP-Ti","t":160.8,"v":34.4},{"s":"Ti6Al4V/CP-Ti","t":161.8,"v":34.8},{"s":"Ti6Al4V/CP-Ti","t":162.5,"v":34.5},{"s":"Ti6Al4V/CP-Ti","t":163.1,"v":34.3}
],
"force":[
{"s":"CP-Ti/CP-Ti","t":3.2,"v":0.2},{"s":"CP-Ti/CP-Ti","t":3.7,"v":0.7},{"s":"CP-Ti/CP-Ti","t":4.6,"v":1.8},{"s":"CP-Ti/CP-Ti","t":5.6,"v":3.1},{"s":"CP-Ti/CP-Ti","t":6.5,"v":4.2},{"s":"CP-Ti/CP-Ti","t":7.5,"v":5.2},{"s":"CP-Ti/CP-Ti","t":8.7,"v":6.0},{"s":"CP-Ti/CP-Ti","t":10,"v":6.7},{"s":"CP-Ti/CP-Ti","t":11.2,"v":7.5},{"s":"CP-Ti/CP-Ti","t":12.5,"v":8.3},{"s":"CP-Ti/CP-Ti","t":13.8,"v":8.8},{"s":"CP-Ti/CP-Ti","t":15,"v":9.3},{"s":"CP-Ti/CP-Ti","t":16.2,"v":9.7},{"s":"CP-Ti/CP-Ti","t":17.5,"v":10.0},{"s":"CP-Ti/CP-Ti","t":18.8,"v":10.3},{"s":"CP-Ti/CP-Ti","t":20,"v":10.5},{"s":"CP-Ti/CP-Ti","t":21.9,"v":10.8},{"s":"CP-Ti/CP-Ti","t":23.8,"v":11.0},{"s":"CP-Ti/CP-Ti","t":25.7,"v":11.1},{"s":"CP-Ti/CP-Ti","t":27.6,"v":11.2},{"s":"CP-Ti/CP-Ti","t":30,"v":11.3},{"s":"CP-Ti/CP-Ti","t":32.6,"v":11.4},{"s":"CP-Ti/CP-Ti","t":34.3,"v":11.4},{"s":"CP-Ti/CP-Ti","t":35.8,"v":11.2},{"s":"CP-Ti/CP-Ti","t":37.3,"v":10.6},{"s":"CP-Ti/CP-Ti","t":38.9,"v":10.0},{"s":"CP-Ti/CP-Ti","t":40.5,"v":9.4},{"s":"CP-Ti/CP-Ti","t":42,"v":8.9},{"s":"CP-Ti/CP-Ti","t":43.6,"v":8.6},{"s":"CP-Ti/CP-Ti","t":45.1,"v":8.4},{"s":"CP-Ti/CP-Ti","t":46.3,"v":8.8},{"s":"CP-Ti/CP-Ti","t":47.6,"v":9.1},{"s":"CP-Ti/CP-Ti","t":49,"v":8.8},{"s":"CP-Ti/CP-Ti","t":50.2,"v":8.4},{"s":"CP-Ti/CP-Ti","t":51.4,"v":8.3},{"s":"CP-Ti/CP-Ti","t":52.6,"v":8.7},{"s":"CP-Ti/CP-Ti","t":53.9,"v":9.3},{"s":"CP-Ti/CP-Ti","t":55.2,"v":10.8},{"s":"CP-Ti/CP-Ti","t":56.4,"v":12.0},{"s":"CP-Ti/CP-Ti","t":57.4,"v":12.6},{"s":"CP-Ti/CP-Ti","t":58.3,"v":13.1},{"s":"CP-Ti/CP-Ti","t":59.3,"v":13.6},{"s":"CP-Ti/CP-Ti","t":60.2,"v":14.1},{"s":"CP-Ti/CP-Ti","t":61,"v":15.0},{"s":"CP-Ti/CP-Ti","t":61.8,"v":16.0},{"s":"CP-Ti/CP-Ti","t":62.6,"v":15.7},{"s":"CP-Ti/CP-Ti","t":63.4,"v":15.5},{"s":"CP-Ti/CP-Ti","t":64.9,"v":15.1},{"s":"CP-Ti/CP-Ti","t":66.5,"v":14.8},{"s":"CP-Ti/CP-Ti","t":67.8,"v":14.6},{"s":"CP-Ti/CP-Ti","t":69,"v":14.5},{"s":"CP-Ti/CP-Ti","t":70.6,"v":14.2},{"s":"CP-Ti/CP-Ti","t":72.2,"v":14.0},{"s":"CP-Ti/CP-Ti","t":73.7,"v":14.2},{"s":"CP-Ti/CP-Ti","t":75.3,"v":14.3},{"s":"CP-Ti/CP-Ti","t":77.2,"v":14.6},{"s":"CP-Ti/CP-Ti","t":79.1,"v":14.8},{"s":"CP-Ti/CP-Ti","t":81,"v":15.0},{"s":"CP-Ti/CP-Ti","t":82.8,"v":15.3},{"s":"CP-Ti/CP-Ti","t":84.5,"v":15.1},{"s":"CP-Ti/CP-Ti","t":86.2,"v":15.3},{"s":"CP-Ti/CP-Ti","t":87.9,"v":15.3},{"s":"CP-Ti/CP-Ti","t":90,"v":15.1},{"s":"CP-Ti/CP-Ti","t":92,"v":15.2},{"s":"CP-Ti/CP-Ti","t":94.2,"v":15.1},{"s":"CP-Ti/CP-Ti","t":96.3,"v":15.0},{"s":"CP-Ti/CP-Ti","t":98.4,"v":15.0},{"s":"CP-Ti/CP-Ti","t":100.5,"v":14.9},{"s":"CP-Ti/CP-Ti","t":102,"v":15.1},{"s":"CP-Ti/CP-Ti","t":103.6,"v":15.3},{"s":"CP-Ti/CP-Ti","t":105.2,"v":15.0},{"s":"CP-Ti/CP-Ti","t":106.8,"v":14.9},{"s":"CP-Ti/CP-Ti","t":108.4,"v":15.0},{"s":"CP-Ti/CP-Ti","t":110,"v":15.1},{"s":"CP-Ti/CP-Ti","t":111.5,"v":15.0},{"s":"CP-Ti/CP-Ti","t":113,"v":14.8},{"s":"CP-Ti/CP-Ti","t":114.7,"v":14.9},{"s":"CP-Ti/CP-Ti","t":116.3,"v":15.1},{"s":"CP-Ti/CP-Ti","t":118,"v":15.3},{"s":"CP-Ti/CP-Ti","t":119.3,"v":15.0},{"s":"CP-Ti/CP-Ti","t":120.6,"v":14.8},{"s":"CP-Ti/CP-Ti","t":122.3,"v":14.6},{"s":"CP-Ti/CP-Ti","t":124,"v":14.4},{"s":"CP-Ti/CP-Ti","t":125.6,"v":14.3},{"s":"CP-Ti/CP-Ti","t":127.5,"v":14.6},{"s":"CP-Ti/CP-Ti","t":129.4,"v":14.8},{"s":"CP-Ti/CP-Ti","t":131.3,"v":14.7},{"s":"CP-Ti/CP-Ti","t":133.1,"v":14.6},{"s":"CP-Ti/CP-Ti","t":134.8,"v":14.5},{"s":"CP-Ti/CP-Ti","t":136.5,"v":14.4},{"s":"CP-Ti/CP-Ti","t":138.1,"v":14.1},{"s":"CP-Ti/CP-Ti","t":139.7,"v":14.3},{"s":"CP-Ti/CP-Ti","t":141.3,"v":14.6},{"s":"CP-Ti/CP-Ti","t":143.5,"v":14.5},{"s":"CP-Ti/CP-Ti","t":145.7,"v":14.4},{"s":"CP-Ti/CP-Ti","t":147.7,"v":14.6},{"s":"CP-Ti/CP-Ti","t":149.8,"v":14.8},{"s":"CP-Ti/CP-Ti","t":151,"v":14.5},{"s":"CP-Ti/CP-Ti","t":152,"v":14.2},{"s":"CP-Ti/CP-Ti","t":154,"v":14.3},{"s":"CP-Ti/CP-Ti","t":157,"v":14.4},{"s":"CP-Ti/CP-Ti","t":159.8,"v":14.3},{"s":"CP-Ti/CP-Ti","t":162.6,"v":14.3},
{"s":"Ti6Al4V/Ti6Al4V","t":0,"v":0},{"s":"Ti6Al4V/Ti6Al4V","t":1.5,"v":0.1},{"s":"Ti6Al4V/Ti6Al4V","t":2.4,"v":0.2},{"s":"Ti6Al4V/Ti6Al4V","t":3.4,"v":0.4},{"s":"Ti6Al4V/Ti6Al4V","t":4.3,"v":0.7},{"s":"Ti6Al4V/Ti6Al4V","t":5.5,"v":1.1},{"s":"Ti6Al4V/Ti6Al4V","t":6.8,"v":1.7},{"s":"Ti6Al4V/Ti6Al4V","t":8.4,"v":2.9},{"s":"Ti6Al4V/Ti6Al4V","t":10,"v":4.1},{"s":"Ti6Al4V/Ti6Al4V","t":11.3,"v":5.6},{"s":"Ti6Al4V/Ti6Al4V","t":12.5,"v":7.2},{"s":"Ti6Al4V/Ti6Al4V","t":13.8,"v":8.5},{"s":"Ti6Al4V/Ti6Al4V","t":15,"v":9.6},{"s":"Ti6Al4V/Ti6Al4V","t":16.3,"v":10.9},{"s":"Ti6Al4V/Ti6Al4V","t":17.5,"v":12.0},{"s":"Ti6Al4V/Ti6Al4V","t":18.8,"v":13.1},{"s":"Ti6Al4V/Ti6Al4V","t":20,"v":14.1},{"s":"Ti6Al4V/Ti6Al4V","t":21.3,"v":15.2},{"s":"Ti6Al4V/Ti6Al4V","t":22.5,"v":16.2},{"s":"Ti6Al4V/Ti6Al4V","t":23.3,"v":17.0},{"s":"Ti6Al4V/Ti6Al4V","t":24.5,"v":17.7},{"s":"Ti6Al4V/Ti6Al4V","t":25.7,"v":18.4},{"s":"Ti6Al4V/Ti6Al4V","t":27.7,"v":19.8},{"s":"Ti6Al4V/Ti6Al4V","t":28.8,"v":20.1},{"s":"Ti6Al4V/Ti6Al4V","t":30.5,"v":20.6},{"s":"Ti6Al4V/Ti6Al4V","t":32,"v":20.9},{"s":"Ti6Al4V/Ti6Al4V","t":35.3,"v":21.3},{"s":"Ti6Al4V/Ti6Al4V","t":38.6,"v":21.4},{"s":"Ti6Al4V/Ti6Al4V","t":40.8,"v":21.3},{"s":"Ti6Al4V/Ti6Al4V","t":42.9,"v":20.7},{"s":"Ti6Al4V/Ti6Al4V","t":44.5,"v":20.1},{"s":"Ti6Al4V/Ti6Al4V","t":45.7,"v":18.9},{"s":"Ti6Al4V/Ti6Al4V","t":46.5,"v":18.2},{"s":"Ti6Al4V/Ti6Al4V","t":47.3,"v":17.8},{"s":"Ti6Al4V/Ti6Al4V","t":48,"v":18.3},{"s":"Ti6Al4V/Ti6Al4V","t":48.8,"v":19.2},{"s":"Ti6Al4V/Ti6Al4V","t":49.8,"v":19.7},{"s":"Ti6Al4V/Ti6Al4V","t":50.5,"v":19.6},{"s":"Ti6Al4V/Ti6Al4V","t":51,"v":18.9},{"s":"Ti6Al4V/Ti6Al4V","t":51.6,"v":16.5},{"s":"Ti6Al4V/Ti6Al4V","t":52.3,"v":14.5},{"s":"Ti6Al4V/Ti6Al4V","t":53,"v":12.8},{"s":"Ti6Al4V/Ti6Al4V","t":53.5,"v":11.5},{"s":"Ti6Al4V/Ti6Al4V","t":54.3,"v":9.5},{"s":"Ti6Al4V/Ti6Al4V","t":55.2,"v":8.0},{"s":"Ti6Al4V/Ti6Al4V","t":56.4,"v":7.2},{"s":"Ti6Al4V/Ti6Al4V","t":57.7,"v":6.5},{"s":"Ti6Al4V/Ti6Al4V","t":58.8,"v":6.9},{"s":"Ti6Al4V/Ti6Al4V","t":60.3,"v":7.6},{"s":"Ti6Al4V/Ti6Al4V","t":61.5,"v":6.9},{"s":"Ti6Al4V/Ti6Al4V","t":62.5,"v":6.0},{"s":"Ti6Al4V/Ti6Al4V","t":63.4,"v":5.5},{"s":"Ti6Al4V/Ti6Al4V","t":64.6,"v":5.5},{"s":"Ti6Al4V/Ti6Al4V","t":65.6,"v":6.2},{"s":"Ti6Al4V/Ti6Al4V","t":66.5,"v":6.9},{"s":"Ti6Al4V/Ti6Al4V","t":68,"v":7.1},{"s":"Ti6Al4V/Ti6Al4V","t":69.6,"v":7.1},{"s":"Ti6Al4V/Ti6Al4V","t":71,"v":6.9},{"s":"Ti6Al4V/Ti6Al4V","t":72.7,"v":6.9},{"s":"Ti6Al4V/Ti6Al4V","t":74,"v":7.0},{"s":"Ti6Al4V/Ti6Al4V","t":75.3,"v":7.1},{"s":"Ti6Al4V/Ti6Al4V","t":76.5,"v":7.2},{"s":"Ti6Al4V/Ti6Al4V","t":77.8,"v":7.2},{"s":"Ti6Al4V/Ti6Al4V","t":79.5,"v":7.0},{"s":"Ti6Al4V/Ti6Al4V","t":81.6,"v":6.8},{"s":"Ti6Al4V/Ti6Al4V","t":84.5,"v":6.6},{"s":"Ti6Al4V/Ti6Al4V","t":87.9,"v":6.4},{"s":"Ti6Al4V/Ti6Al4V","t":91,"v":6.2},{"s":"Ti6Al4V/Ti6Al4V","t":94.2,"v":6.0},{"s":"Ti6Al4V/Ti6Al4V","t":97.5,"v":5.9},{"s":"Ti6Al4V/Ti6Al4V","t":100.5,"v":5.8},{"s":"Ti6Al4V/Ti6Al4V","t":103.5,"v":5.6},{"s":"Ti6Al4V/Ti6Al4V","t":106.8,"v":5.5},{"s":"Ti6Al4V/Ti6Al4V","t":110,"v":5.3},{"s":"Ti6Al4V/Ti6Al4V","t":113,"v":5.2},{"s":"Ti6Al4V/Ti6Al4V","t":116,"v":5.1},{"s":"Ti6Al4V/Ti6Al4V","t":119.3,"v":5.0},{"s":"Ti6Al4V/Ti6Al4V","t":122.5,"v":4.9},{"s":"Ti6Al4V/Ti6Al4V","t":125.6,"v":4.8},{"s":"Ti6Al4V/Ti6Al4V","t":128.8,"v":4.75},{"s":"Ti6Al4V/Ti6Al4V","t":131.9,"v":4.7},{"s":"Ti6Al4V/Ti6Al4V","t":135,"v":4.65},{"s":"Ti6Al4V/Ti6Al4V","t":138.1,"v":4.6},{"s":"Ti6Al4V/Ti6Al4V","t":141.3,"v":4.6},{"s":"Ti6Al4V/Ti6Al4V","t":144.4,"v":4.6},{"s":"Ti6Al4V/Ti6Al4V","t":147,"v":4.55},{"s":"Ti6Al4V/Ti6Al4V","t":149.4,"v":4.5},{"s":"Ti6Al4V/Ti6Al4V","t":151.5,"v":4.4},{"s":"Ti6Al4V/Ti6Al4V","t":153.8,"v":4.2},{"s":"Ti6Al4V/Ti6Al4V","t":155.5,"v":4.15},{"s":"Ti6Al4V/Ti6Al4V","t":157,"v":4.1},{"s":"Ti6Al4V/Ti6Al4V","t":160,"v":4.05},{"s":"Ti6Al4V/Ti6Al4V","t":162.6,"v":4.05},
{"s":"CP-Ti/Ti6Al4V","t":5,"v":0},{"s":"CP-Ti/Ti6Al4V","t":5.6,"v":0.3},{"s":"CP-Ti/Ti6Al4V","t":6.5,"v":1.1},{"s":"CP-Ti/Ti6Al4V","t":7.5,"v":2.1},{"s":"CP-Ti/Ti6Al4V","t":8.8,"v":3.1},{"s":"CP-Ti/Ti6Al4V","t":10,"v":4.1},{"s":"CP-Ti/Ti6Al4V","t":11.2,"v":5.0},{"s":"CP-Ti/Ti6Al4V","t":12.5,"v":5.8},{"s":"CP-Ti/Ti6Al4V","t":13.8,"v":6.2},{"s":"CP-Ti/Ti6Al4V","t":15,"v":6.5},{"s":"CP-Ti/Ti6Al4V","t":16.2,"v":6.6},{"s":"CP-Ti/Ti6Al4V","t":17.5,"v":6.7},{"s":"CP-Ti/Ti6Al4V","t":18.8,"v":7.1},{"s":"CP-Ti/Ti6Al4V","t":20,"v":7.6},{"s":"CP-Ti/Ti6Al4V","t":21.3,"v":8.1},{"s":"CP-Ti/Ti6Al4V","t":22.5,"v":8.6},{"s":"CP-Ti/Ti6Al4V","t":24,"v":9.1},{"s":"CP-Ti/Ti6Al4V","t":25.7,"v":9.5},{"s":"CP-Ti/Ti6Al4V","t":27.2,"v":9.5},{"s":"CP-Ti/Ti6Al4V","t":28.8,"v":9.3},{"s":"CP-Ti/Ti6Al4V","t":30.7,"v":8.5},{"s":"CP-Ti/Ti6Al4V","t":32.6,"v":7.6},{"s":"CP-Ti/Ti6Al4V","t":34.5,"v":6.6},{"s":"CP-Ti/Ti6Al4V","t":36.3,"v":5.8},{"s":"CP-Ti/Ti6Al4V","t":38,"v":5.4},{"s":"CP-Ti/Ti6Al4V","t":39.5,"v":5.2},{"s":"CP-Ti/Ti6Al4V","t":41,"v":5.4},{"s":"CP-Ti/Ti6Al4V","t":42.6,"v":5.8},{"s":"CP-Ti/Ti6Al4V","t":44,"v":6.3},{"s":"CP-Ti/Ti6Al4V","t":45.1,"v":6.7},{"s":"CP-Ti/Ti6Al4V","t":46.3,"v":6.8},{"s":"CP-Ti/Ti6Al4V","t":47.6,"v":6.5},{"s":"CP-Ti/Ti6Al4V","t":48.6,"v":5.4},{"s":"CP-Ti/Ti6Al4V","t":49.5,"v":4.5},{"s":"CP-Ti/Ti6Al4V","t":50.4,"v":4.7},{"s":"CP-Ti/Ti6Al4V","t":51.4,"v":5.2},{"s":"CP-Ti/Ti6Al4V","t":52.7,"v":5.9},{"s":"CP-Ti/Ti6Al4V","t":53.9,"v":6.5},{"s":"CP-Ti/Ti6Al4V","t":55.2,"v":7.1},{"s":"CP-Ti/Ti6Al4V","t":56.4,"v":7.7},{"s":"CP-Ti/Ti6Al4V","t":57.7,"v":8.8},{"s":"CP-Ti/Ti6Al4V","t":58.9,"v":10.0},{"s":"CP-Ti/Ti6Al4V","t":60.2,"v":11.2},{"s":"CP-Ti/Ti6Al4V","t":61.2,"v":11.9},{"s":"CP-Ti/Ti6Al4V","t":62.1,"v":12.4},{"s":"CP-Ti/Ti6Al4V","t":63,"v":11.9},{"s":"CP-Ti/Ti6Al4V","t":64,"v":11.2},{"s":"CP-Ti/Ti6Al4V","t":65.2,"v":11.2},{"s":"CP-Ti/Ti6Al4V","t":66.5,"v":11.2},{"s":"CP-Ti/Ti6Al4V","t":67.8,"v":11.1},{"s":"CP-Ti/Ti6Al4V","t":69,"v":11.1},{"s":"CP-Ti/Ti6Al4V","t":70.5,"v":11.5},{"s":"CP-Ti/Ti6Al4V","t":72.1,"v":12.0},{"s":"CP-Ti/Ti6Al4V","t":73.7,"v":12.5},{"s":"CP-Ti/Ti6Al4V","t":75.3,"v":12.9},{"s":"CP-Ti/Ti6Al4V","t":77.2,"v":13.0},{"s":"CP-Ti/Ti6Al4V","t":79.1,"v":13.1},{"s":"CP-Ti/Ti6Al4V","t":80.5,"v":13.0},{"s":"CP-Ti/Ti6Al4V","t":81.65,"v":12.7},{"s":"CP-Ti/Ti6Al4V","t":83.5,"v":13.0},{"s":"CP-Ti/Ti6Al4V","t":85.7,"v":13.2},{"s":"CP-Ti/Ti6Al4V","t":87.9,"v":13.4},{"s":"CP-Ti/Ti6Al4V","t":90,"v":13.5},{"s":"CP-Ti/Ti6Al4V","t":92,"v":13.5},{"s":"CP-Ti/Ti6Al4V","t":94.2,"v":13.6},{"s":"CP-Ti/Ti6Al4V","t":96.3,"v":13.7},{"s":"CP-Ti/Ti6Al4V","t":98.4,"v":13.8},{"s":"CP-Ti/Ti6Al4V","t":100.5,"v":13.9},{"s":"CP-Ti/Ti6Al4V","t":102.6,"v":13.8},{"s":"CP-Ti/Ti6Al4V","t":104.7,"v":13.9},{"s":"CP-Ti/Ti6Al4V","t":106.8,"v":13.9},{"s":"CP-Ti/Ti6Al4V","t":109,"v":14.0},{"s":"CP-Ti/Ti6Al4V","t":111,"v":14.0},{"s":"CP-Ti/Ti6Al4V","t":113,"v":14.1},{"s":"CP-Ti/Ti6Al4V","t":115,"v":14.2},{"s":"CP-Ti/Ti6Al4V","t":117,"v":14.0},{"s":"CP-Ti/Ti6Al4V","t":119.3,"v":13.7},{"s":"CP-Ti/Ti6Al4V","t":121.4,"v":13.8},{"s":"CP-Ti/Ti6Al4V","t":123.5,"v":13.9},{"s":"CP-Ti/Ti6Al4V","t":125.6,"v":13.9},{"s":"CP-Ti/Ti6Al4V","t":127.7,"v":13.8},{"s":"CP-Ti/Ti6Al4V","t":129.8,"v":14.0},{"s":"CP-Ti/Ti6Al4V","t":131.9,"v":13.9},{"s":"CP-Ti/Ti6Al4V","t":134,"v":13.8},{"s":"CP-Ti/Ti6Al4V","t":136,"v":13.9},{"s":"CP-Ti/Ti6Al4V","t":138.1,"v":13.9},{"s":"CP-Ti/Ti6Al4V","t":139.7,"v":14.0},{"s":"CP-Ti/Ti6Al4V","t":141.3,"v":14.1},{"s":"CP-Ti/Ti6Al4V","t":142.8,"v":13.8},{"s":"CP-Ti/Ti6Al4V","t":144.4,"v":13.4},{"s":"CP-Ti/Ti6Al4V","t":146.5,"v":13.2},{"s":"CP-Ti/Ti6Al4V","t":148.8,"v":13.1},{"s":"CP-Ti/Ti6Al4V","t":150.7,"v":13.1},{"s":"CP-Ti/Ti6Al4V","t":152.6,"v":13.0},{"s":"CP-Ti/Ti6Al4V","t":154.8,"v":12.9},{"s":"CP-Ti/Ti6Al4V","t":157,"v":12.7},{"s":"CP-Ti/Ti6Al4V","t":159.8,"v":12.7},{"s":"CP-Ti/Ti6Al4V","t":162.6,"v":12.7},
{"s":"Ti6Al4V/CP-Ti","t":2.4,"v":0},{"s":"Ti6Al4V/CP-Ti","t":3.2,"v":0.3},{"s":"Ti6Al4V/CP-Ti","t":3.7,"v":0.7},{"s":"Ti6Al4V/CP-Ti","t":5,"v":1.4},{"s":"Ti6Al4V/CP-Ti","t":6.2,"v":2.1},{"s":"Ti6Al4V/CP-Ti","t":7.5,"v":3.4},{"s":"Ti6Al4V/CP-Ti","t":8.7,"v":4.8},{"s":"Ti6Al4V/CP-Ti","t":10,"v":6.6},{"s":"Ti6Al4V/CP-Ti","t":11.2,"v":8.3},{"s":"Ti6Al4V/CP-Ti","t":12.5,"v":10.0},{"s":"Ti6Al4V/CP-Ti","t":13.7,"v":11.7},{"s":"Ti6Al4V/CP-Ti","t":14.6,"v":13.0},{"s":"Ti6Al4V/CP-Ti","t":15.6,"v":14.1},{"s":"Ti6Al4V/CP-Ti","t":16.5,"v":14.6},{"s":"Ti6Al4V/CP-Ti","t":17.5,"v":15.1},{"s":"Ti6Al4V/CP-Ti","t":18.8,"v":15.5},{"s":"Ti6Al4V/CP-Ti","t":20,"v":16.2},{"s":"Ti6Al4V/CP-Ti","t":21.3,"v":16.5},{"s":"Ti6Al4V/CP-Ti","t":22.8,"v":16.9},{"s":"Ti6Al4V/CP-Ti","t":24.4,"v":17.3},{"s":"Ti6Al4V/CP-Ti","t":26.5,"v":18.4},{"s":"Ti6Al4V/CP-Ti","t":28.8,"v":19.5},{"s":"Ti6Al4V/CP-Ti","t":30.5,"v":19.9},{"s":"Ti6Al4V/CP-Ti","t":32,"v":20.2},{"s":"Ti6Al4V/CP-Ti","t":33.8,"v":20.4},{"s":"Ti6Al4V/CP-Ti","t":35.3,"v":20.6},{"s":"Ti6Al4V/CP-Ti","t":36.5,"v":20.5},{"s":"Ti6Al4V/CP-Ti","t":37.5,"v":20.1},{"s":"Ti6Al4V/CP-Ti","t":38.5,"v":19.3},{"s":"Ti6Al4V/CP-Ti","t":39.6,"v":18.5},{"s":"Ti6Al4V/CP-Ti","t":40.8,"v":18.0},{"s":"Ti6Al4V/CP-Ti","t":41.9,"v":17.8},{"s":"Ti6Al4V/CP-Ti","t":43.5,"v":17.7},{"s":"Ti6Al4V/CP-Ti","t":45.1,"v":17.5},{"s":"Ti6Al4V/CP-Ti","t":46.3,"v":17.3},{"s":"Ti6Al4V/CP-Ti","t":47.6,"v":17.2},{"s":"Ti6Al4V/CP-Ti","t":48.6,"v":17.5},{"s":"Ti6Al4V/CP-Ti","t":49.5,"v":17.7},{"s":"Ti6Al4V/CP-Ti","t":50.5,"v":16.8},{"s":"Ti6Al4V/CP-Ti","t":51.4,"v":15.8},{"s":"Ti6Al4V/CP-Ti","t":52.3,"v":15.6},{"s":"Ti6Al4V/CP-Ti","t":53.3,"v":15.5},{"s":"Ti6Al4V/CP-Ti","t":54.3,"v":15.6},{"s":"Ti6Al4V/CP-Ti","t":55.2,"v":15.7},{"s":"Ti6Al4V/CP-Ti","t":56.2,"v":15.8},{"s":"Ti6Al4V/CP-Ti","t":57.1,"v":15.8},{"s":"Ti6Al4V/CP-Ti","t":58.3,"v":16.0},{"s":"Ti6Al4V/CP-Ti","t":59.6,"v":16.3},{"s":"Ti6Al4V/CP-Ti","t":60.2,"v":16.6},{"s":"Ti6Al4V/CP-Ti","t":60.8,"v":17.0},{"s":"Ti6Al4V/CP-Ti","t":61.5,"v":16.5},{"s":"Ti6Al4V/CP-Ti","t":62.1,"v":15.8},{"s":"Ti6Al4V/CP-Ti","t":62.8,"v":14.5},{"s":"Ti6Al4V/CP-Ti","t":63.4,"v":13.1},{"s":"Ti6Al4V/CP-Ti","t":64,"v":11.5},{"s":"Ti6Al4V/CP-Ti","t":64.6,"v":10.0},{"s":"Ti6Al4V/CP-Ti","t":65.5,"v":8.7},{"s":"Ti6Al4V/CP-Ti","t":66.5,"v":7.6},{"s":"Ti6Al4V/CP-Ti","t":67.7,"v":7.0},{"s":"Ti6Al4V/CP-Ti","t":69,"v":6.5},{"s":"Ti6Al4V/CP-Ti","t":70.3,"v":6.3},{"s":"Ti6Al4V/CP-Ti","t":71.5,"v":6.2},{"s":"Ti6Al4V/CP-Ti","t":72.7,"v":6.3},{"s":"Ti6Al4V/CP-Ti","t":74,"v":6.3},{"s":"Ti6Al4V/CP-Ti","t":75.3,"v":6.4},{"s":"Ti6Al4V/CP-Ti","t":76.5,"v":6.6},{"s":"Ti6Al4V/CP-Ti","t":77.8,"v":6.9},{"s":"Ti6Al4V/CP-Ti","t":79,"v":7.2},{"s":"Ti6Al4V/CP-Ti","t":80.3,"v":7.4},{"s":"Ti6Al4V/CP-Ti","t":81.6,"v":7.0},{"s":"Ti6Al4V/CP-Ti","t":82.8,"v":7.1},{"s":"Ti6Al4V/CP-Ti","t":84.8,"v":6.5},{"s":"Ti6Al4V/CP-Ti","t":86.7,"v":7.0},{"s":"Ti6Al4V/CP-Ti","t":88.6,"v":6.4},{"s":"Ti6Al4V/CP-Ti","t":90,"v":6.5},{"s":"Ti6Al4V/CP-Ti","t":91.7,"v":6.2},{"s":"Ti6Al4V/CP-Ti","t":93,"v":6.0},{"s":"Ti6Al4V/CP-Ti","t":94.2,"v":5.8},{"s":"Ti6Al4V/CP-Ti","t":95.5,"v":6.1},{"s":"Ti6Al4V/CP-Ti","t":96.8,"v":6.6},{"s":"Ti6Al4V/CP-Ti","t":98,"v":6.3},{"s":"Ti6Al4V/CP-Ti","t":99.2,"v":6.7},{"s":"Ti6Al4V/CP-Ti","t":100.5,"v":5.8},{"s":"Ti6Al4V/CP-Ti","t":101.8,"v":6.1},{"s":"Ti6Al4V/CP-Ti","t":103,"v":6.0},{"s":"Ti6Al4V/CP-Ti","t":104.3,"v":6.3},{"s":"Ti6Al4V/CP-Ti","t":105.5,"v":6.4},{"s":"Ti6Al4V/CP-Ti","t":107,"v":6.6},{"s":"Ti6Al4V/CP-Ti","t":108,"v":6.7},{"s":"Ti6Al4V/CP-Ti","t":108.6,"v":5.8},{"s":"Ti6Al4V/CP-Ti","t":109.8,"v":6.6},{"s":"Ti6Al4V/CP-Ti","t":111.2,"v":7.6},{"s":"Ti6Al4V/CP-Ti","t":112.8,"v":7.8},{"s":"Ti6Al4V/CP-Ti","t":114.3,"v":7.7},{"s":"Ti6Al4V/CP-Ti","t":115.5,"v":7.6},{"s":"Ti6Al4V/CP-Ti","t":116.8,"v":7.4},{"s":"Ti6Al4V/CP-Ti","t":118.5,"v":7.1},{"s":"Ti6Al4V/CP-Ti","t":120,"v":6.9},{"s":"Ti6Al4V/CP-Ti","t":121.2,"v":7.0},{"s":"Ti6Al4V/CP-Ti","t":122.5,"v":7.2},{"s":"Ti6Al4V/CP-Ti","t":123.8,"v":7.5},{"s":"Ti6Al4V/CP-Ti","t":125,"v":7.6},{"s":"Ti6Al4V/CP-Ti","t":125.9,"v":7.3},{"s":"Ti6Al4V/CP-Ti","t":126.8,"v":6.9},{"s":"Ti6Al4V/CP-Ti","t":128,"v":6.6},{"s":"Ti6Al4V/CP-Ti","t":129.4,"v":6.2},{"s":"Ti6Al4V/CP-Ti","t":130.5,"v":5.9},{"s":"Ti6Al4V/CP-Ti","t":131.8,"v":5.5},{"s":"Ti6Al4V/CP-Ti","t":133.1,"v":5.5},{"s":"Ti6Al4V/CP-Ti","t":134.3,"v":5.4},{"s":"Ti6Al4V/CP-Ti","t":135.6,"v":5.2},{"s":"Ti6Al4V/CP-Ti","t":136.4,"v":4.7},{"s":"Ti6Al4V/CP-Ti","t":136.9,"v":4.3},{"s":"Ti6Al4V/CP-Ti","t":138,"v":4.7},{"s":"Ti6Al4V/CP-Ti","t":139.4,"v":4.8},{"s":"Ti6Al4V/CP-Ti","t":140.7,"v":5.0},{"s":"Ti6Al4V/CP-Ti","t":141.9,"v":5.2},{"s":"Ti6Al4V/CP-Ti","t":143,"v":4.9},{"s":"Ti6Al4V/CP-Ti","t":144.4,"v":4.5},{"s":"Ti6Al4V/CP-Ti","t":145.7,"v":4.6},{"s":"Ti6Al4V/CP-Ti","t":147,"v":4.6},{"s":"Ti6Al4V/CP-Ti","t":148.2,"v":5.2},{"s":"Ti6Al4V/CP-Ti","t":149.4,"v":5.8},{"s":"Ti6Al4V/CP-Ti","t":150.6,"v":5.7},{"s":"Ti6Al4V/CP-Ti","t":151.9,"v":5.5},{"s":"Ti6Al4V/CP-Ti","t":153.5,"v":5.2},{"s":"Ti6Al4V/CP-Ti","t":155.1,"v":5.0},{"s":"Ti6Al4V/CP-Ti","t":156.4,"v":5.3},{"s":"Ti6Al4V/CP-Ti","t":157.6,"v":5.7},{"s":"Ti6Al4V/CP-Ti","t":159,"v":5.8},{"s":"Ti6Al4V/CP-Ti","t":160.8,"v":5.8},{"s":"Ti6Al4V/CP-Ti","t":162.6,"v":5.8}
],
"orangeV":[{"t":60},{"t":72},{"t":75},{"t":163}],
"topLine":[{"t":0,"t2":163,"v":54}],
"headR":[{"t":71.35,"v":54},{"t":162.35,"v":54}],
"headL":[{"t":0.65,"v":54},{"t":75.65,"v":54}],
"phase":[{"t":37.65,"v":55.06,"label":"Plunge"},{"t":73.8,"v":55.06,"label":"Dwell time"},{"t":120.8,"v":55.06,"label":"Advancing phase"}],
"axUp":[{"t":0,"v":53.07},{"t":165,"v":53.07}],
"axRight":[{"t":163.85,"v":0}],
"legSolid":[{"t":6.2,"t2":17.35,"v":49.2}],
"legDash":[{"t":6.4,"t2":15.9,"v":41.7}],
"legText":[{"t":20.3,"v":49.2,"label":"Torque"},{"t":20.8,"v":41.7,"label":"Vertical force"}],
"shText":[{"t":7.7,"v":31.1,"label":"Shoulder contact"}],
"shLine":[{"t":37.2,"v":31.4,"t2":57.6,"v2":41.46}],
"shHead":[{"t":57.6,"v":41.46}],
"dwLine":[{"t":74.8,"v":54.93,"t2":73.83,"v2":50.15}],
"dwHead":[{"t":73.75,"v":49.6}]
},
"layer":[
{
 "encoding":{
  "x":{"field":"t","type":"quantitative","scale":{"domain":[0,165],"nice":false,"zero":false}},
  "y":{"field":"v","type":"quantitative","scale":{"domain":[0,54],"nice":false}}
 },
 "layer":[
  {"data":{"name":"torque"},"mark":{"type":"line","strokeWidth":1.6,"clip":true},
   "encoding":{
    "x":{"field":"t","type":"quantitative","scale":{"domain":[0,165],"nice":false,"zero":false},
      "axis":{"values":[0,15,30,45,60,75,90,105,120,135,150,165],"title":"Time (s)","tickSize":8,"domainWidth":2,"labelPadding":4,"titlePadding":14,"labelFlush":false,"grid":true,"gridOpacity":{"condition":{"test":"datum.value==0||datum.value==165","value":0},"value":1}}},
    "y":{"field":"v","type":"quantitative","scale":{"domain":[0,54],"nice":false},
      "axis":{"values":[0,9,18,27,36,45,54],"title":"Spindle torque [Nm]","orient":"left","tickSize":6,"labelPadding":14,"titlePadding":12,"domainWidth":1.5,"grid":true,"gridOpacity":{"condition":{"test":"datum.value==0||datum.value==54","value":0},"value":1}}},
    "color":{"field":"s","type":"nominal","sort":null,
      "scale":{"domain":["CP-Ti/CP-Ti","Ti6Al4V/Ti6Al4V","CP-Ti/Ti6Al4V","Ti6Al4V/CP-Ti"],"range":["#00B050","#FF0000","#FFC000","#00B0F0"]},
      "legend":{"title":null,"orient":"none","legendX":-48,"legendY":489,"direction":"horizontal","columnPadding":92,"symbolType":"circle","symbolSize":280,"labelFontSize":26,"labelOffset":10,"labelLimit":400,"padding":0,
        "encode":{"symbols":{"update":{"fill":{"scale":"color","field":"value"},"stroke":{"value":"#000000"},"strokeWidth":{"value":1},"opacity":{"value":1},"fillOpacity":{"value":1}}}}}}
   }},
  {"data":{"name":"orangeV"},"mark":{"type":"rule","color":"#ED7D31","strokeWidth":3,"strokeDash":[20,6,3,6]},"encoding":{"x":{"field":"t","type":"quantitative"},"y":null}},
  {"data":{"name":"topLine"},"mark":{"type":"rule","color":"#F4A06A","strokeWidth":1.3},"encoding":{"x2":{"field":"t2"}}},
  {"data":{"name":"headR"},"mark":{"type":"point","shape":"triangle-right","filled":true,"color":"#ED7D31","size":70,"opacity":1}},
  {"data":{"name":"headL"},"mark":{"type":"point","shape":"triangle-left","filled":true,"color":"#ED7D31","size":70,"opacity":1}},
  {"data":{"name":"phase"},"mark":{"type":"text","font":"Liberation Serif, Times New Roman, serif","fontStyle":"italic","fontSize":24,"align":"center","baseline":"alphabetic","color":"#000000"},"encoding":{"text":{"field":"label"}}},
  {"data":{"name":"axUp"},"mark":{"type":"point","shape":"triangle-up","filled":true,"color":"#000000","size":190,"opacity":1}},
  {"data":{"name":"axRight"},"mark":{"type":"point","shape":"triangle-right","filled":true,"color":"#000000","size":190,"opacity":1}},
  {"data":{"name":"legSolid"},"mark":{"type":"rule","color":"#000000","strokeWidth":5},"encoding":{"x2":{"field":"t2"}}},
  {"data":{"name":"legDash"},"mark":{"type":"rule","color":"#000000","strokeWidth":5,"strokeDash":[28,10]},"encoding":{"x2":{"field":"t2"}}},
  {"data":{"name":"legText"},"mark":{"type":"text","font":"Liberation Serif, Times New Roman, serif","fontSize":26,"align":"left","baseline":"middle","color":"#000000"},"encoding":{"text":{"field":"label"}}},
  {"data":{"name":"shText"},"mark":{"type":"text","font":"Liberation Serif, Times New Roman, serif","fontSize":23,"align":"left","baseline":"middle","color":"#000000"},"encoding":{"text":{"field":"label"}}},
  {"data":{"name":"shLine"},"mark":{"type":"rule","color":"#404040","strokeWidth":1},"encoding":{"x2":{"field":"t2"},"y2":{"field":"v2"}}},
  {"data":{"name":"shHead"},"mark":{"type":"point","shape":"triangle-up","filled":true,"color":"#000000","size":70,"angle":59,"opacity":1}},
  {"data":{"name":"dwLine"},"mark":{"type":"rule","color":"#404040","strokeWidth":1},"encoding":{"x2":{"field":"t2"},"y2":{"field":"v2"}}},
  {"data":{"name":"dwHead"},"mark":{"type":"point","shape":"triangle-down","filled":true,"color":"#000000","size":80,"angle":9,"opacity":1}}
 ]
},
{
 "data":{"name":"force"},
 "mark":{"type":"line","strokeWidth":1.6,"strokeDash":[7,4]},
 "encoding":{
  "x":{"field":"t","type":"quantitative","scale":{"domain":[0,165],"nice":false,"zero":false}},
  "y":{"field":"v","type":"quantitative","scale":{"domain":[0,42],"nice":false},
    "axis":{"values":[0,7,14,21,28,35,42],"title":"Vertical force [kN]","orient":"right","tickSize":7,"labelPadding":14,"titlePadding":18,"domainWidth":1.5,"grid":false}},
  "color":{"field":"s","type":"nominal","sort":null,"scale":{"domain":["CP-Ti/CP-Ti","Ti6Al4V/Ti6Al4V","CP-Ti/Ti6Al4V","Ti6Al4V/CP-Ti"],"range":["#00B050","#FF0000","#FFC000","#00B0F0"]},"legend":null}
 }
}
],
"resolve":{"scale":{"y":"independent"}}
}
